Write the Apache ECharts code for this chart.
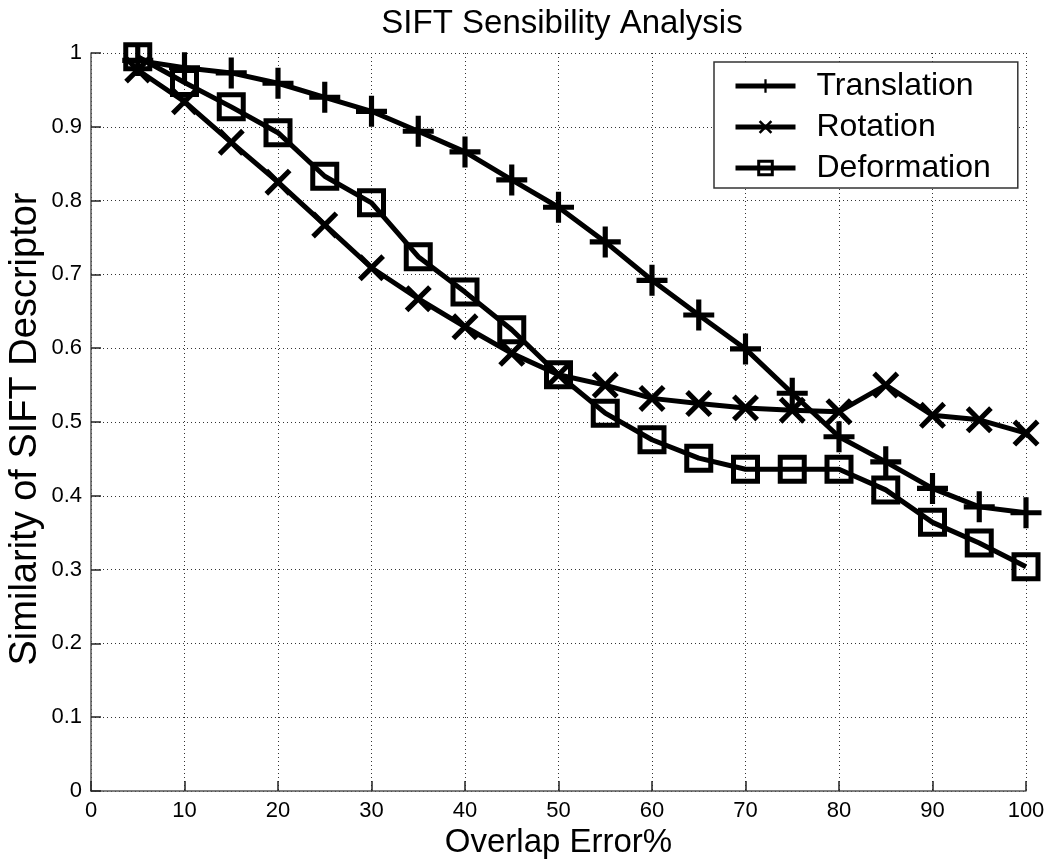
<!DOCTYPE html>
<html>
<head>
<meta charset="utf-8">
<script src="https://cdn.jsdelivr.net/npm/echarts@6/dist/echarts.min.js"></script>
<style>
  html, body { margin: 0; padding: 0; background: #fff; }
  #chart { width: 1050px; height: 863px; }
</style>
</head>
<body>
<div id="chart"></div>
<script>
const overlapError = [5, 10, 15, 20, 25, 30, 35, 40, 45, 50, 55, 60, 65, 70, 75, 80, 85, 90, 95, 100];
const translation = [0.99, 0.98, 0.973, 0.959, 0.94, 0.921, 0.894, 0.866, 0.828, 0.791, 0.744, 0.692, 0.645, 0.599, 0.539, 0.48, 0.446, 0.41, 0.385, 0.377];
const rotation = [0.977, 0.934, 0.879, 0.825, 0.767, 0.709, 0.667, 0.629, 0.593, 0.564, 0.55, 0.532, 0.525, 0.519, 0.516, 0.514, 0.55, 0.509, 0.503, 0.485];
const deformation = [0.995, 0.96, 0.927, 0.892, 0.833, 0.797, 0.724, 0.676, 0.625, 0.564, 0.512, 0.476, 0.451, 0.436, 0.436, 0.436, 0.408, 0.364, 0.336, 0.304];

const font = "'Liberation Sans', Arial, sans-serif";
// filled outlines for the + and x markers
const plusPath = "path://M12.5,0H17.5V12.5H30V17.5H17.5V30H12.5V17.5H0V12.5H12.5Z";
const crossPath = "path://M0,3.5L3.5,0L13,9.5L22.5,0L26,3.5L16.5,13L26,22.5L22.5,26L13,16.5L3.5,26L0,22.5L9.5,13Z";

const pairs = ys => overlapError.map((x, i) => [x, ys[i]]);
const axisGrey = "#555";

const chart = echarts.init(document.getElementById("chart"));
chart.setOption({
  animation: false,
  backgroundColor: "#fff",
  textStyle: { fontFamily: font, color: "#000" },
  title: {
    text: "SIFT Sensibility Analysis",
    left: 557, top: 2, textAlign: "center",
    textStyle: { fontFamily: font, fontSize: 33, fontWeight: "normal", color: "#000" },
  },
  legend: {
    left: 714, top: 62,
    orient: "vertical",
    backgroundColor: "#fff",
    borderColor: "#333", borderWidth: 1.5, borderRadius: 0,
    padding: [8, 27, 4, 19],
    itemWidth: 60, itemHeight: 17, itemGap: 9,
    lineStyle: { width: 5 },
    itemStyle: { borderWidth: 3 },
    textStyle: { fontFamily: font, fontSize: 32, color: "#000", padding: [0, 0, 0, 16] },
    data: ["Translation", "Rotation", "Deformation"],
  },
  grid: { left: 91, right: 24, top: 53, bottom: 72, outerBoundsMode: "none", containLabel: false },
  xAxis: {
    type: "value", min: 0, max: 100, interval: 10,
    name: "Overlap Error%", nameLocation: "middle", nameGap: 33,
    nameTextStyle: { fontFamily: font, fontSize: 33, color: "#000" },
    axisLine: { show: true, lineStyle: { color: axisGrey, width: 1.5 } },
    axisTick: { show: true, inside: true, length: 10, lineStyle: { color: "#222", width: 1.5 } },
    axisLabel: { fontFamily: font, fontSize: 22, color: "#000", margin: 9 },
    splitLine: { show: true, lineStyle: { color: "#333", type: [1, 3], width: 1 } },
  },
  yAxis: {
    type: "value", min: 0, max: 1, interval: 0.1,
    name: "Similarity of SIFT Descriptor", nameLocation: "middle", nameGap: 46,
    nameMoveOverlap: false,
    nameTextStyle: { fontFamily: font, fontSize: 38, color: "#000", padding: [0, 14, 0, 0] },
    axisLine: { show: true, lineStyle: { color: axisGrey, width: 1.5 } },
    axisTick: { show: true, inside: true, length: 10, lineStyle: { color: "#222", width: 1.5 } },
    axisLabel: { fontFamily: font, fontSize: 22, color: "#000", margin: 9 },
    splitLine: { show: true, lineStyle: { color: "#333", type: [1, 3], width: 1 } },
  },
  series: [
    {
      name: "Translation", type: "line", data: pairs(translation),
      symbol: plusPath, symbolSize: 31,
      lineStyle: { color: "#000", width: 5 },
      itemStyle: { color: "#000" },
    },
    {
      name: "Rotation", type: "line", data: pairs(rotation),
      symbol: crossPath, symbolSize: 27,
      lineStyle: { color: "#000", width: 5 },
      itemStyle: { color: "#000" },
    },
    {
      name: "Deformation", type: "line", data: pairs(deformation),
      symbol: "rect", symbolSize: 24,
      lineStyle: { color: "#000", width: 5 },
      itemStyle: { color: "rgba(0,0,0,0)", borderColor: "#000", borderWidth: 5 },
    },
  ],
});
</script>
</body>
</html>
